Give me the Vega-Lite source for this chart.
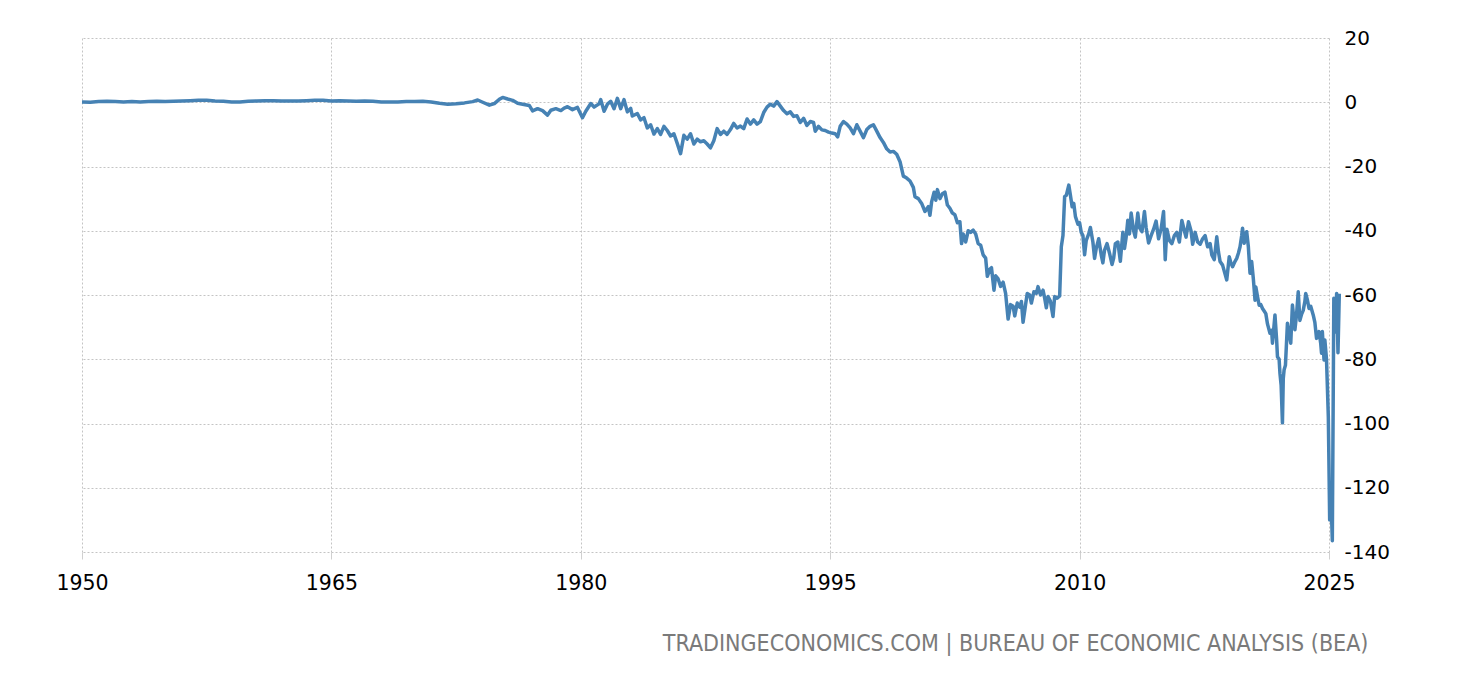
{
  "$schema": "https://vega.github.io/schema/vega-lite/v6.json",
  "width": 1247,
  "height": 514,
  "autosize": {"type": "none"},
  "padding": {"left": 82, "top": 38, "right": 131, "bottom": 128},
  "background": "white",
  "title": {
    "text": "TRADINGECONOMICS.COM | BUREAU OF ECONOMIC ANALYSIS (BEA)",
    "orient": "bottom",
    "anchor": "end",
    "font": "DejaVu Sans Condensed",
    "fontSize": 23,
    "fontWeight": "normal",
    "color": "#7a7a7a",
    "dx": -21,
    "offset": 39
  },
  "config": {
    "view": {"stroke": null},
    "axis": {"labelFont": "DejaVu Sans", "labelColor": "#000000"}
  },
  "data": {
    "values": [
      {"t":1950.0,"v":0.1},{"t":1950.5,"v":0.0},{"t":1951.0,"v":0.2},{"t":1951.5,"v":0.3},{"t":1952.0,"v":0.2},{"t":1952.5,"v":0.1},
      {"t":1953.0,"v":0.2},{"t":1953.5,"v":0.1},{"t":1954.0,"v":0.2},{"t":1954.5,"v":0.3},{"t":1955.0,"v":0.2},{"t":1955.5,"v":0.3},
      {"t":1956.0,"v":0.4},{"t":1956.5,"v":0.5},{"t":1957.0,"v":0.6},{"t":1957.5,"v":0.6},{"t":1958.0,"v":0.4},{"t":1958.5,"v":0.3},
      {"t":1959.0,"v":0.1},{"t":1959.5,"v":0.1},{"t":1960.0,"v":0.3},{"t":1960.5,"v":0.4},{"t":1961.0,"v":0.5},{"t":1961.5,"v":0.5},
      {"t":1962.0,"v":0.4},{"t":1962.5,"v":0.4},{"t":1963.0,"v":0.4},{"t":1963.5,"v":0.5},{"t":1964.0,"v":0.6},{"t":1964.5,"v":0.6},
      {"t":1965.0,"v":0.4},{"t":1965.5,"v":0.5},{"t":1966.0,"v":0.4},{"t":1966.5,"v":0.3},{"t":1967.0,"v":0.4},{"t":1967.5,"v":0.3},
      {"t":1968.0,"v":0.1},{"t":1968.5,"v":0.1},{"t":1969.0,"v":0.1},{"t":1969.5,"v":0.2},{"t":1970.0,"v":0.2},{"t":1970.5,"v":0.3},
      {"t":1971.0,"v":0.1},{"t":1971.5,"v":-0.3},{"t":1972.0,"v":-0.6},{"t":1972.5,"v":-0.5},{"t":1973.0,"v":-0.2},{"t":1973.5,"v":0.2},
      {"t":1973.8,"v":0.7},{"t":1974.1,"v":0.0},{"t":1974.5,"v":-0.9},{"t":1974.8,"v":-0.4},{"t":1975.1,"v":0.9},{"t":1975.3,"v":1.5},
      {"t":1975.6,"v":1.0},{"t":1975.9,"v":0.6},{"t":1976.2,"v":-0.3},{"t":1976.5,"v":-0.6},{"t":1976.9,"v":-1.0},{"t":1977.1,"v":-2.7},
      {"t":1977.4,"v":-2.0},{"t":1977.7,"v":-2.6},{"t":1978.0,"v":-4.0},{"t":1978.2,"v":-2.5},{"t":1978.5,"v":-2.0},{"t":1978.8,"v":-2.6},
      {"t":1979.0,"v":-1.8},{"t":1979.2,"v":-1.4},{"t":1979.5,"v":-2.3},{"t":1979.8,"v":-1.6},{"t":1980.1,"v":-4.8},{"t":1980.3,"v":-2.8},
      {"t":1980.6,"v":-0.4},{"t":1980.8,"v":-1.5},{"t":1981.1,"v":-0.5},{"t":1981.2,"v":0.8},{"t":1981.4,"v":-2.8},{"t":1981.6,"v":-0.6},
      {"t":1981.8,"v":0.3},{"t":1982.0,"v":-2.0},{"t":1982.2,"v":1.2},{"t":1982.4,"v":-2.0},{"t":1982.6,"v":0.8},{"t":1982.8,"v":-3.0},
      {"t":1983.0,"v":-1.9},{"t":1983.1,"v":-4.3},{"t":1983.4,"v":-3.5},{"t":1983.6,"v":-5.5},{"t":1983.8,"v":-4.8},{"t":1984.0,"v":-8.0},
      {"t":1984.2,"v":-7.0},{"t":1984.4,"v":-9.9},{"t":1984.6,"v":-8.2},{"t":1984.8,"v":-10.0},{"t":1985.0,"v":-7.5},{"t":1985.2,"v":-8.8},
      {"t":1985.4,"v":-10.5},{"t":1985.6,"v":-9.8},{"t":1985.8,"v":-12.8},{"t":1986.0,"v":-16.0},{"t":1986.2,"v":-10.3},{"t":1986.4,"v":-11.5},
      {"t":1986.6,"v":-9.8},{"t":1986.8,"v":-13.0},{"t":1987.0,"v":-11.5},{"t":1987.2,"v":-12.3},{"t":1987.4,"v":-12.0},{"t":1987.6,"v":-13.0},
      {"t":1987.8,"v":-14.2},{"t":1988.0,"v":-12.0},{"t":1988.2,"v":-8.2},{"t":1988.4,"v":-10.0},{"t":1988.6,"v":-9.0},{"t":1988.8,"v":-10.0},
      {"t":1989.0,"v":-8.5},{"t":1989.2,"v":-6.6},{"t":1989.4,"v":-8.0},{"t":1989.6,"v":-7.4},{"t":1989.8,"v":-8.2},{"t":1990.0,"v":-5.2},
      {"t":1990.2,"v":-6.8},{"t":1990.4,"v":-5.5},{"t":1990.6,"v":-6.8},{"t":1990.8,"v":-6.0},{"t":1991.0,"v":-3.2},{"t":1991.2,"v":-1.5},
      {"t":1991.4,"v":-0.6},{"t":1991.6,"v":-1.2},{"t":1991.8,"v":0.2},{"t":1992.0,"v":-1.2},{"t":1992.2,"v":-2.6},{"t":1992.4,"v":-3.6},
      {"t":1992.6,"v":-3.0},{"t":1992.8,"v":-4.4},{"t":1993.0,"v":-4.2},{"t":1993.2,"v":-6.3},{"t":1993.4,"v":-5.0},{"t":1993.6,"v":-7.2},
      {"t":1993.8,"v":-6.0},{"t":1994.0,"v":-6.3},{"t":1994.1,"v":-9.0},{"t":1994.3,"v":-7.5},{"t":1994.5,"v":-8.6},{"t":1994.7,"v":-8.8},
      {"t":1994.9,"v":-9.3},{"t":1995.1,"v":-9.6},{"t":1995.3,"v":-9.8},{"t":1995.45,"v":-10.8},{"t":1995.6,"v":-7.5},{"t":1995.8,"v":-6.0},
      {"t":1996.0,"v":-6.8},{"t":1996.2,"v":-8.0},{"t":1996.4,"v":-9.8},{"t":1996.6,"v":-7.0},{"t":1996.8,"v":-9.0},{"t":1997.0,"v":-11.0},
      {"t":1997.2,"v":-8.5},{"t":1997.4,"v":-7.5},{"t":1997.6,"v":-7.0},{"t":1997.8,"v":-9.0},{"t":1998.0,"v":-11.0},{"t":1998.2,"v":-12.5},
      {"t":1998.4,"v":-14.5},{"t":1998.6,"v":-15.5},{"t":1998.8,"v":-15.3},{"t":1999.0,"v":-16.2},{"t":1999.2,"v":-18.5},{"t":1999.4,"v":-23.0},
      {"t":1999.6,"v":-23.6},{"t":1999.8,"v":-24.5},{"t":2000.0,"v":-26.5},{"t":2000.1,"v":-29.4},{"t":2000.3,"v":-30.0},{"t":2000.5,"v":-31.5},
      {"t":2000.7,"v":-34.0},{"t":2000.9,"v":-32.5},{"t":2001.0,"v":-35.2},{"t":2001.1,"v":-31.0},{"t":2001.25,"v":-28.0},{"t":2001.35,"v":-30.5},
      {"t":2001.45,"v":-27.2},{"t":2001.6,"v":-30.0},{"t":2001.75,"v":-28.5},{"t":2001.9,"v":-28.0},{"t":2002.05,"v":-32.0},{"t":2002.2,"v":-33.0},
      {"t":2002.35,"v":-34.5},{"t":2002.5,"v":-35.0},{"t":2002.65,"v":-37.5},{"t":2002.8,"v":-37.2},{"t":2002.9,"v":-44.0},{"t":2003.0,"v":-41.0},
      {"t":2003.15,"v":-43.5},{"t":2003.3,"v":-40.0},{"t":2003.45,"v":-40.5},{"t":2003.6,"v":-39.8},{"t":2003.75,"v":-41.0},{"t":2003.9,"v":-44.0},
      {"t":2004.05,"v":-44.5},{"t":2004.2,"v":-47.5},{"t":2004.35,"v":-48.5},{"t":2004.45,"v":-54.2},{"t":2004.6,"v":-52.0},{"t":2004.7,"v":-51.5},
      {"t":2004.85,"v":-58.5},{"t":2004.95,"v":-54.0},{"t":2005.1,"v":-55.0},{"t":2005.25,"v":-57.3},{"t":2005.4,"v":-56.0},{"t":2005.55,"v":-59.5},
      {"t":2005.7,"v":-67.5},{"t":2005.85,"v":-63.0},{"t":2006.0,"v":-63.5},{"t":2006.1,"v":-66.5},{"t":2006.25,"v":-62.5},{"t":2006.4,"v":-63.8},
      {"t":2006.5,"v":-62.0},{"t":2006.6,"v":-68.5},{"t":2006.75,"v":-63.0},{"t":2006.85,"v":-59.5},{"t":2007.0,"v":-60.0},{"t":2007.1,"v":-62.5},
      {"t":2007.25,"v":-59.0},{"t":2007.4,"v":-59.5},{"t":2007.5,"v":-57.4},{"t":2007.65,"v":-60.0},{"t":2007.8,"v":-58.5},{"t":2007.9,"v":-61.0},
      {"t":2008.0,"v":-64.0},{"t":2008.1,"v":-60.5},{"t":2008.25,"v":-62.0},{"t":2008.4,"v":-66.7},{"t":2008.5,"v":-60.5},{"t":2008.65,"v":-61.0},
      {"t":2008.8,"v":-60.3},{"t":2008.9,"v":-45.0},{"t":2009.0,"v":-41.5},{"t":2009.1,"v":-29.4},{"t":2009.2,"v":-29.0},{"t":2009.35,"v":-25.8},
      {"t":2009.45,"v":-29.0},{"t":2009.55,"v":-32.5},{"t":2009.65,"v":-31.5},{"t":2009.75,"v":-35.6},{"t":2009.9,"v":-38.0},{"t":2010.0,"v":-37.5},
      {"t":2010.1,"v":-40.5},{"t":2010.2,"v":-41.5},{"t":2010.3,"v":-47.5},{"t":2010.4,"v":-43.0},{"t":2010.55,"v":-41.0},{"t":2010.65,"v":-39.0},
      {"t":2010.8,"v":-43.5},{"t":2010.9,"v":-48.6},{"t":2011.0,"v":-45.5},{"t":2011.15,"v":-42.5},{"t":2011.3,"v":-47.5},{"t":2011.4,"v":-50.0},
      {"t":2011.5,"v":-46.0},{"t":2011.65,"v":-44.0},{"t":2011.8,"v":-47.0},{"t":2011.95,"v":-50.5},{"t":2012.05,"v":-48.5},{"t":2012.15,"v":-44.0},
      {"t":2012.3,"v":-43.5},{"t":2012.45,"v":-49.5},{"t":2012.6,"v":-40.5},{"t":2012.7,"v":-45.5},{"t":2012.8,"v":-42.0},{"t":2012.9,"v":-36.7},
      {"t":2013.0,"v":-41.0},{"t":2013.1,"v":-34.5},{"t":2013.25,"v":-40.0},{"t":2013.35,"v":-42.0},{"t":2013.5,"v":-34.5},{"t":2013.6,"v":-39.0},
      {"t":2013.75,"v":-40.3},{"t":2013.9,"v":-34.0},{"t":2014.0,"v":-39.0},{"t":2014.15,"v":-43.8},{"t":2014.3,"v":-41.5},{"t":2014.45,"v":-39.5},
      {"t":2014.6,"v":-37.0},{"t":2014.75,"v":-42.5},{"t":2014.9,"v":-39.5},{"t":2015.05,"v":-34.0},{"t":2015.15,"v":-49.0},{"t":2015.25,"v":-39.5},
      {"t":2015.4,"v":-43.0},{"t":2015.55,"v":-44.0},{"t":2015.7,"v":-41.5},{"t":2015.85,"v":-40.5},{"t":2016.0,"v":-43.5},{"t":2016.15,"v":-36.8},
      {"t":2016.3,"v":-40.0},{"t":2016.4,"v":-42.0},{"t":2016.55,"v":-37.2},{"t":2016.7,"v":-40.0},{"t":2016.8,"v":-44.2},{"t":2016.95,"v":-40.5},
      {"t":2017.1,"v":-43.5},{"t":2017.25,"v":-44.2},{"t":2017.4,"v":-42.5},{"t":2017.55,"v":-41.5},{"t":2017.7,"v":-45.0},{"t":2017.85,"v":-44.0},
      {"t":2017.95,"v":-47.5},{"t":2018.1,"v":-49.0},{"t":2018.25,"v":-41.9},{"t":2018.35,"v":-46.5},{"t":2018.45,"v":-49.6},{"t":2018.6,"v":-50.7},
      {"t":2018.75,"v":-53.5},{"t":2018.85,"v":-55.3},{"t":2019.0,"v":-48.1},{"t":2019.1,"v":-50.0},{"t":2019.2,"v":-51.2},{"t":2019.35,"v":-49.5},
      {"t":2019.45,"v":-48.6},{"t":2019.55,"v":-47.0},{"t":2019.65,"v":-45.0},{"t":2019.75,"v":-41.5},{"t":2019.8,"v":-39.2},{"t":2019.9,"v":-43.9},
      {"t":2020.0,"v":-41.0},{"t":2020.05,"v":-40.3},{"t":2020.15,"v":-45.0},{"t":2020.25,"v":-53.2},{"t":2020.35,"v":-49.6},{"t":2020.45,"v":-55.0},
      {"t":2020.55,"v":-61.6},{"t":2020.6,"v":-57.5},{"t":2020.7,"v":-60.5},{"t":2020.8,"v":-63.2},{"t":2020.9,"v":-63.0},{"t":2021.0,"v":-64.2},
      {"t":2021.1,"v":-65.0},{"t":2021.2,"v":-65.8},{"t":2021.3,"v":-69.0},{"t":2021.45,"v":-71.9},{"t":2021.55,"v":-71.0},{"t":2021.6,"v":-75.0},
      {"t":2021.75,"v":-66.2},{"t":2021.85,"v":-74.0},{"t":2021.9,"v":-79.2},{"t":2022.0,"v":-80.0},{"t":2022.05,"v":-84.4},{"t":2022.12,"v":-88.0},
      {"t":2022.2,"v":-99.8},{"t":2022.25,"v":-86.0},{"t":2022.3,"v":-83.3},{"t":2022.38,"v":-81.9},{"t":2022.5,"v":-68.8},{"t":2022.6,"v":-72.0},
      {"t":2022.7,"v":-75.0},{"t":2022.8,"v":-63.1},{"t":2022.9,"v":-68.0},{"t":2022.95,"v":-70.8},{"t":2023.05,"v":-66.0},{"t":2023.15,"v":-59.0},
      {"t":2023.25,"v":-67.9},{"t":2023.35,"v":-66.0},{"t":2023.45,"v":-64.8},{"t":2023.55,"v":-62.0},{"t":2023.6,"v":-59.5},{"t":2023.7,"v":-61.5},
      {"t":2023.8,"v":-64.2},{"t":2023.9,"v":-63.5},{"t":2024.05,"v":-66.2},{"t":2024.15,"v":-68.5},{"t":2024.25,"v":-73.5},{"t":2024.33,"v":-72.5},
      {"t":2024.4,"v":-71.4},{"t":2024.5,"v":-75.0},{"t":2024.55,"v":-78.1},{"t":2024.6,"v":-71.4},{"t":2024.7,"v":-80.2},{"t":2024.75,"v":-74.0},
      {"t":2024.85,"v":-80.0},{"t":2024.96,"v":-98.0},{"t":2025.04,"v":-130.0},{"t":2025.12,"v":-123.0},{"t":2025.2,"v":-136.5},{"t":2025.29,"v":-61.0},
      {"t":2025.37,"v":-71.5},{"t":2025.46,"v":-59.5},{"t":2025.54,"v":-78.0},{"t":2025.62,"v":-59.6}
    ]
  },
  "mark": {"type": "line", "color": "#4682b4", "strokeWidth": 3.5, "clip": false, "strokeJoin": "round"},
  "encoding": {
    "x": {
      "field": "t",
      "type": "quantitative",
      "scale": {"domain": [1950, 2025], "nice": false, "zero": false},
      "axis": {
        "title": null,
        "values": [1950, 1965, 1980, 1995, 2010, 2025],
        "format": "d",
        "labelFontSize": 20.5,
        "labelPadding": 14,
        "domain": false,
        "ticks": true,
        "tickSize": 7,
        "tickColor": "#d0d0d0",
        "grid": true,
        "gridColor": "#c4c4c4",
        "gridDash": [2, 2],
        "gridWidth": 1,
        "labelFlush": false
      }
    },
    "y": {
      "field": "v",
      "type": "quantitative",
      "scale": {"domain": [-140, 20], "nice": false, "zero": false},
      "axis": {
        "title": null,
        "orient": "right",
        "values": [20, 0, -20, -40, -60, -80, -100, -120, -140],
        "labelExpr": "datum.value < 0 ? '-' + abs(datum.value) : '' + datum.value",
        "labelFontSize": 20,
        "labelAlign": "left",
        "labelBaseline": "middle",
        "labelPadding": 15,
        "domain": false,
        "ticks": false,
        "grid": true,
        "gridColor": "#c4c4c4",
        "gridDash": [2, 2],
        "gridWidth": 1
      }
    }
  }
}
